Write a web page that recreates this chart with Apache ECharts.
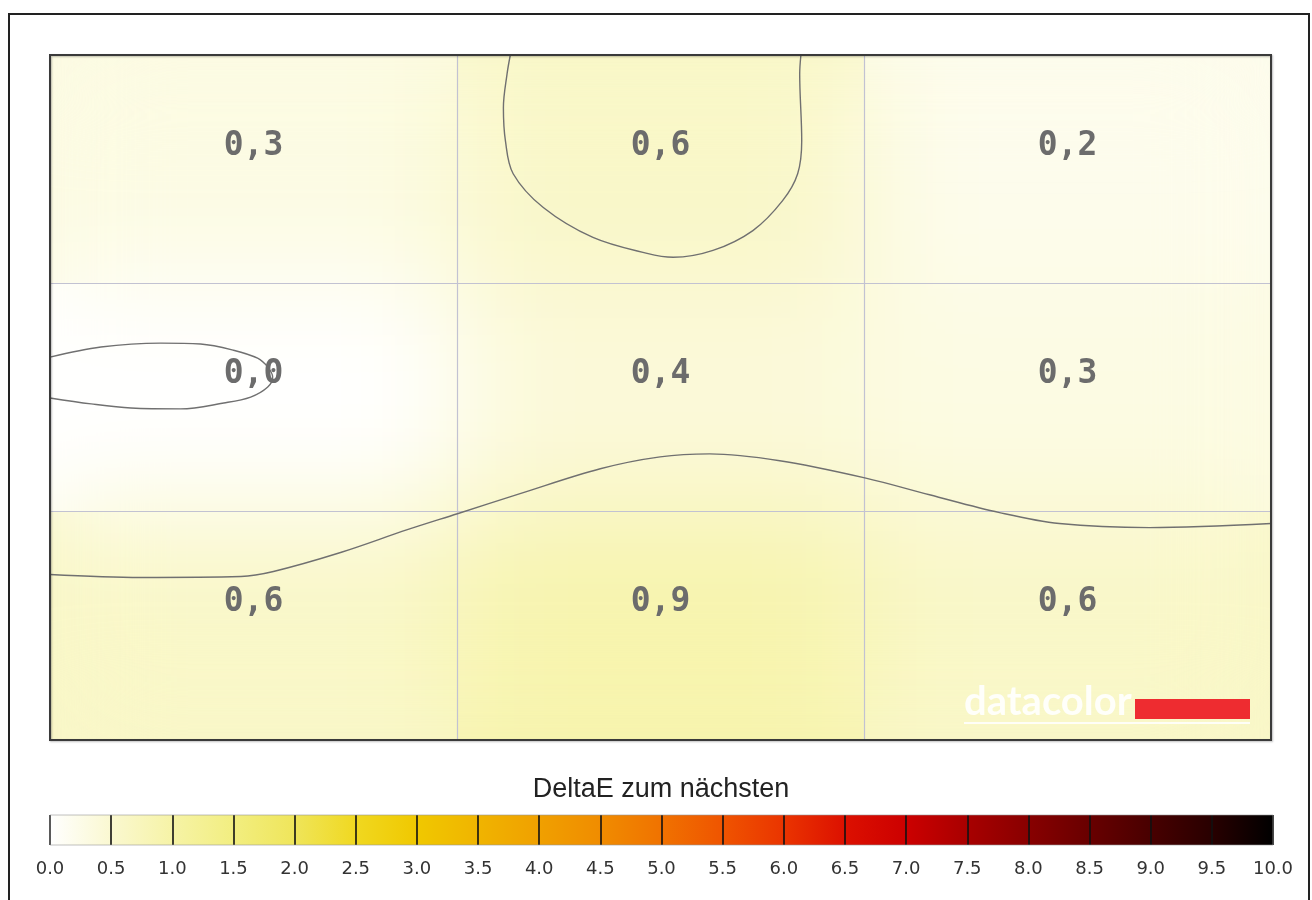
<!DOCTYPE html>
<html>
<head>
<meta charset="utf-8">
<script src="https://cdn.jsdelivr.net/npm/echarts@6/dist/echarts.min.js"></script>
<style>
  html, body { margin: 0; padding: 0; background: #ffffff; }
  #wrap { position: relative; width: 1312px; height: 900px; overflow: hidden; }
  #base, #top { position: absolute; left: 0; top: 0; width: 1312px; height: 900px; }
  #blurClip { position: absolute; left: 50px; top: 55px; width: 1221px; height: 685px; overflow: hidden; }
  #blur { width: 1221px; height: 685px; filter: blur(58px); }
</style>
</head>
<body>
<div id="wrap">
  <div id="base"></div>
  <div id="blurClip"><div id="blur"></div></div>
  <div id="top"></div>
</div>
<script>
// ---- data ----
const columns = ['links', 'mitte', 'rechts'];
const rows = ['oben', 'mitte', 'unten'];
const rowTop = [0.3, 0.6, 0.2];
const rowMiddle = [0.0, 0.4, 0.3];
const rowBottom = [0.6, 0.9, 0.6];

// colour scale stops at 0.0, 0.5, ... 10.0
const scaleTicks = [0.0, 0.5, 1.0, 1.5, 2.0, 2.5, 3.0, 3.5, 4.0, 4.5, 5.0,
                    5.5, 6.0, 6.5, 7.0, 7.5, 8.0, 8.5, 9.0, 9.5, 10.0];
const scaleColors = ['#ffffff', '#faf8d0', '#f6f3a6', '#f2ee80', '#efe55a', '#f0d820',
                     '#f0c800', '#f0b400', '#f0a000', '#f08c00', '#f07200', '#ef5400',
                     '#ea3400', '#dc1000', '#cc0000', '#a80000', '#880000', '#680000',
                     '#480000', '#280000', '#000000'];

// contour lines (x: 0..3 columns, y: 0..3 rows from top)
const contourTop = [[1.131, 0], [1.123, 0.083], [1.114, 0.231], [1.119, 0.376], [1.138, 0.520],
  [1.212, 0.668], [1.334, 0.799], [1.467, 0.869], [1.531, 0.886], [1.629, 0.856],
  [1.727, 0.769], [1.800, 0.638], [1.837, 0.520], [1.847, 0.376], [1.842, 0.083], [1.845, 0]];
const contourLeft = [[0, 1.323], [0.125, 1.279], [0.272, 1.262], [0.370, 1.266], [0.451, 1.293],
  [0.510, 1.328], [0.535, 1.367], [0.547, 1.410], [0.535, 1.454], [0.493, 1.498],
  [0.427, 1.524], [0.321, 1.550], [0.199, 1.546], [0.101, 1.528], [0, 1.502]];
const contourWave = [[0, 2.275], [0.223, 2.288], [0.469, 2.284], [0.549, 2.262], [0.714, 2.179],
  [0.878, 2.079], [1.001, 2.009], [1.155, 1.921], [1.352, 1.812], [1.499, 1.760],
  [1.621, 1.747], [1.793, 1.777], [2.002, 1.852], [2.161, 1.926], [2.333, 2.004],
  [2.480, 2.052], [2.701, 2.070], [3.0, 2.052]];

const scaleTitle = 'DeltaE zum nächsten';

// ---- build ----
const heatData = [];
[rowTop, rowMiddle, rowBottom].forEach(function (r, ri) {
  r.forEach(function (v, ci) { heatData.push([ci, ri, v]); });
});
const segments = [];
for (let i = 0; i < scaleTicks.length - 1; i++) {
  segments.push([scaleTicks[i], scaleTicks[i + 1], i]);
}

const G = { left: 50, top: 55, width: 1221, height: 685 };
const CB = { left: 50, top: 815, width: 1223, height: 30 };

function heatOption(grid, bg) {
  return {
    animation: false,
    backgroundColor: bg,
    grid: grid,
    xAxis: { type: 'category', data: columns, show: false },
    yAxis: { type: 'category', data: rows, inverse: true, show: false },
    visualMap: {
      show: false, type: 'continuous', seriesIndex: 0, min: 0, max: 10,
      inRange: { color: scaleColors }
    },
    series: [{
      type: 'heatmap', data: heatData, silent: true,
      itemStyle: { borderWidth: 0 }, label: { show: false }, emphasis: { disabled: true }
    }]
  };
}

// layer 1: sharp cells (seen at the plot edges)
const base = echarts.init(document.getElementById('base'));
const baseOpt = heatOption({ left: G.left, top: G.top, width: G.width, height: G.height }, '#ffffff');
baseOpt.graphic = [
  { type: 'rect', silent: true, shape: { x: 9, y: 14, width: 1300, height: 900 },
    style: { fill: 'none', stroke: '#222222', lineWidth: 2 } }
];
base.setOption(baseOpt);

// layer 2: same cells, softened
const soft = echarts.init(document.getElementById('blur'));
soft.setOption(heatOption({ left: 0, top: 0, right: 0, bottom: 0 }, 'transparent'));

// layer 3: grid lines, contours, labels, colour scale
const chart = echarts.init(document.getElementById('top'));

function contourSeries(data) {
  return {
    type: 'line', xAxisIndex: 1, yAxisIndex: 1, data: data,
    smooth: 0.35, showSymbol: false, symbol: 'none', silent: true, z: 4,
    lineStyle: { color: '#707070', width: 1.4 }
  };
}

chart.setOption({
  animation: false,
  backgroundColor: 'transparent',
  grid: [
    { left: G.left, top: G.top, width: G.width, height: G.height, show: false },
    { left: CB.left, top: CB.top, width: CB.width, height: CB.height, show: false }
  ],
  xAxis: [
    { type: 'category', data: columns, gridIndex: 0, show: false },
    { type: 'value', gridIndex: 0, min: 0, max: 3, interval: 1, z: 3,
      axisLine: { show: false }, axisTick: { show: false }, axisLabel: { show: false },
      splitLine: { show: true, lineStyle: { color: '#c2c2d2', width: 1.2 } } },
    { type: 'value', gridIndex: 1, min: 0, max: 10, interval: 0.5, z: 5,
      axisLine: { show: false },
      axisTick: { show: true, inside: true, length: 30, lineStyle: { color: '#111111', width: 1.6 } },
      axisLabel: { show: true, margin: 15, color: '#333333', fontSize: 18,
        fontFamily: 'DejaVu Sans', formatter: function (v) { return v.toFixed(1); },
        showMinLabel: true, showMaxLabel: true },
      splitLine: { show: false } }
  ],
  yAxis: [
    { type: 'category', data: rows, gridIndex: 0, inverse: true, show: false },
    { type: 'value', gridIndex: 0, min: 0, max: 3, interval: 1, inverse: true, z: 3,
      axisLine: { show: false }, axisTick: { show: false }, axisLabel: { show: false },
      splitLine: { show: true, lineStyle: { color: '#c2c2d2', width: 1.2 } } },
    { type: 'value', gridIndex: 1, min: 0, max: 1, show: false }
  ],
  series: [
    {
      type: 'scatter', xAxisIndex: 0, yAxisIndex: 0, data: heatData, z: 5,
      symbolSize: 1, silent: true, itemStyle: { color: 'rgba(0,0,0,0)' },
      label: {
        show: true, position: 'inside', offset: [0, -23], opacity: 1,
        textBorderWidth: 0,
        fontFamily: 'DejaVu Sans Mono', fontWeight: 'bold', fontSize: 33, color: '#6c6c6c',
        formatter: function (p) { return p.value[2].toFixed(1).replace('.', ','); }
      },
      emphasis: { disabled: true }
    },
    contourSeries(contourTop),
    contourSeries(contourLeft),
    contourSeries(contourWave),
    {
      type: 'custom', xAxisIndex: 2, yAxisIndex: 2, data: segments, silent: true, z: 2,
      renderItem: function (params, api) {
        const p0 = api.coord([api.value(0), 1]);
        const p1 = api.coord([api.value(1), 0]);
        const idx = api.value(2);
        return {
          type: 'rect',
          shape: { x: p0[0], y: p0[1], width: p1[0] - p0[0] + 0.5, height: p1[1] - p0[1] },
          style: {
            fill: new echarts.graphic.LinearGradient(0, 0, 1, 0, [
              { offset: 0, color: scaleColors[idx] },
              { offset: 1, color: scaleColors[idx + 1] }
            ])
          }
        };
      }
    }
  ],
  graphic: [
    { type: 'rect', z: 100, silent: true,
      shape: { x: CB.left, y: CB.top, width: CB.width, height: CB.height },
      style: { fill: 'none', stroke: 'rgba(150,150,150,0.6)', lineWidth: 1 } },
    { type: 'rect', z: 100, silent: true,
      shape: { x: G.left, y: G.top, width: G.width, height: G.height },
      style: { fill: 'none', stroke: '#3a3a3a', lineWidth: 2,
               shadowColor: 'rgba(0,0,0,0.25)', shadowBlur: 2, shadowOffsetX: 1, shadowOffsetY: 1 } },
    { type: 'text', z: 100, silent: true,
      style: { x: 661, y: 790, text: scaleTitle, align: 'center', verticalAlign: 'middle',
               font: '27px "Liberation Sans", Arial, sans-serif', fill: '#222222' } },
    { type: 'text', z: 100, silent: true,
      style: { x: 964, y: 722, text: 'datacolor', align: 'left', verticalAlign: 'bottom',
               font: 'bold 40px Lato, sans-serif', fill: 'rgba(255,255,255,0.9)' } },
    { type: 'rect', z: 100, silent: true,
      shape: { x: 1135, y: 699, width: 115, height: 20 },
      style: { fill: '#ee2c30' } },
    { type: 'line', z: 100, silent: true,
      shape: { x1: 964, y1: 723, x2: 1250, y2: 723 },
      style: { stroke: 'rgba(255,255,255,0.85)', lineWidth: 2 } }
  ]
});
</script>
</body>
</html>
